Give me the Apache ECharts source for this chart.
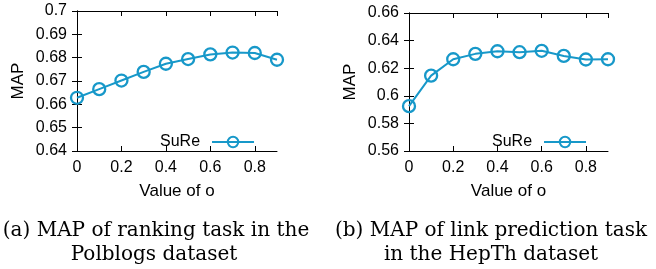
<!DOCTYPE html>
<html>
<head>
<meta charset="utf-8">
<script src="https://cdn.jsdelivr.net/npm/echarts@6/dist/echarts.min.js"></script>
<style>
  html, body { margin: 0; padding: 0; background: #fff; }
  #main { width: 656px; height: 269px; }
</style>
</head>
<body>
<div id="main"></div>
<script>
// values of o (x axis)
var oValues = [0, 0.1, 0.2, 0.3, 0.4, 0.5, 0.6, 0.7, 0.8, 0.9];
// MAP, ranking task, Polblogs
var mapPolblogs = [0.6628, 0.6665, 0.6702, 0.6739, 0.6774, 0.6794, 0.6814, 0.6822, 0.6820, 0.6791];
// MAP, link prediction, HepTh
var mapHepTh = [0.5925, 0.6146, 0.6265, 0.6304, 0.6323, 0.6316, 0.6326, 0.6289, 0.6263, 0.6265];
var seriesName = 'SuRe';
var captions = [
   ['(a) MAP of ranking task in the', 'Polblogs dataset'],
   ['(b) MAP of link prediction task', 'in the HepTh dataset']
];

var lineColor = '#1798c9';
var sansFont = 'Liberation Sans';
var serifFont = '20px "DejaVu Serif"';

function pairs (xs, ys) {
   return xs.map(function (x, i) { return [x, ys[i]]; });
}

var myChart = echarts.init(document.getElementById('main'));

var grids = [
   { left: 77, top: 11, width: 200, height: 140 },
   { left: 409, top: 13, width: 199, height: 138 }
];

function xAxes (gi) {
   var base = {
      type: 'value', gridIndex: gi, min: 0, max: 0.9, interval: 0.2,
      axisLine: { show: true, lineStyle: { color: '#000', width: 1 } },
      axisTick: { show: true, inside: true, length: 5, lineStyle: { color: '#000' } },
      splitLine: { show: false }
   };
   return [
      Object.assign({}, base, {
         position: 'bottom',
         name: 'Value of o', nameLocation: 'middle', nameGap: 32,
         nameTextStyle: { color: '#000', fontSize: 17, fontFamily: sansFont },
         axisLabel: { color: '#000', fontSize: 16, fontFamily: sansFont, margin: 9, showMaxLabel: false }
      }),
      Object.assign({}, base, { position: 'top', axisLabel: { show: false } })
   ];
}

function yAxes (gi, min, max, interval) {
   var base = {
      type: 'value', gridIndex: gi, min: min, max: max, interval: interval,
      axisLine: { show: true, lineStyle: { color: '#000', width: 1 } },
      axisTick: { show: true, inside: true, length: 5, lineStyle: { color: '#000' } },
      splitLine: { show: false }
   };
   return [
      Object.assign({}, base, {
         position: 'left',
         name: 'MAP', nameLocation: 'middle', nameGap: 50,
         nameTextStyle: { color: '#000', fontSize: 17, fontFamily: sansFont },
         axisLabel: { color: '#000', fontSize: 16, fontFamily: sansFont, margin: 10 }
      }),
      Object.assign({}, base, { position: 'right', axisLabel: { show: false } })
   ];
}

function lineSeries (xi, yi, data) {
   return {
      name: seriesName, type: 'line', xAxisIndex: xi, yAxisIndex: yi,
      data: data,
      symbol: 'circle', symbolSize: 12,
      // open circles: the line shows through, like the gnuplot original
      itemStyle: { color: 'rgba(255,255,255,0)', borderColor: lineColor, borderWidth: 2.3 },
      lineStyle: { color: lineColor, width: 2 },
      z: 3
   };
}

function legendAt (left, top) {
   return {
      data: [seriesName], left: left, top: top, padding: 0, align: 'right',
      itemWidth: 42, itemHeight: 13,
      textStyle: { color: '#000', fontSize: 16, fontFamily: sansFont, padding: [0, 7, 0, 0] }
   };
}

function captionText (cx, y, txt) {
   return {
      type: 'text', x: cx, y: y,
      style: { text: txt, fill: '#000', font: serifFont, align: 'center' }
   };
}

var option = {
   animation: false,
   grid: grids,
   xAxis: xAxes(0).concat(xAxes(1)),
   yAxis: yAxes(0, 0.64, 0.7, 0.01).concat(yAxes(1, 0.56, 0.66, 0.02)),
   legend: [legendAt(160, 134), legendAt(492, 134)],
   series: [
      lineSeries(0, 0, pairs(oValues, mapPolblogs)),
      lineSeries(2, 2, pairs(oValues, mapHepTh))
   ],
   graphic: [
      captionText(156, 221, captions[0][0]),
      captionText(154, 245, captions[0][1]),
      captionText(491, 221, captions[1][0]),
      captionText(491, 245, captions[1][1])
   ]
};

myChart.setOption(option);
window.addEventListener("resize", function () {
   myChart.resize();
});
</script>
</body>
</html>
